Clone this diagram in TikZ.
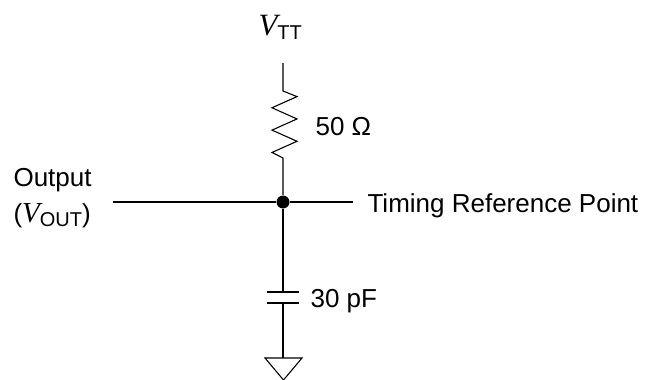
\documentclass[tikz,border=0pt]{standalone}
\usepackage{fontspec}
\setmainfont{Liberation Sans}
\newfontfamily\timesfont{Liberation Serif}
\usetikzlibrary{positioning}

\newcommand{\voltsym}[2]{{\timesfont\itshape\fontsize{#2}{#2}\selectfont V}\raisebox{-0.3ex}{\fontsize{20}{20}\selectfont #1}}

\begin{document}
\begin{tikzpicture}[x=1pt,y=-1pt,line width=1.1pt]
    \useasboundingbox (0,0) rectangle (645,380);

    % wire ends
    \coordinate (top) at (283,63);
    \coordinate (rtop) at (283,91);
    \coordinate (rbot) at (283,158);
    \coordinate (inl) at (113,202);
    \coordinate (outr) at (353,202);
    \coordinate (ctop) at (283,292);
    \coordinate (cbot) at (283,303);
    \coordinate (gnd) at (283,358);

    \begin{scope}[every node/.style={inner sep=0pt,anchor=base west,
        font=\fontsize{26}{30}\selectfont}]
      \node (vtt) at (258,35) {\voltsym{TT}{31}};
      \node (res) at (315,135) {50 Ω};
      \node (outp) at (13,186) {Output};
      \node (vout) at (13,222) {(\voltsym{OUT}{29})};
      \node (trp) at (367,212) {Timing Reference Point};
      \node (cap) at (310,307) {30 pF};
    \end{scope}

    \node[circle,fill,inner sep=0pt,minimum size=13pt] (junc) at (283,202) {};

    % resistor
    \draw (top) -- (rtop) -- ++(14,5.6) -- ++(-25,11.17) -- ++(25,11.17)
      -- ++(-25,11.17) -- ++(25,11.17) -- ++(-25,11.17) -- (rbot) -- (junc);
    \draw (inl) -- (junc) -- (outr);
    % capacitor
    \draw (junc) -- (ctop);
    \draw ([xshift=-16pt]ctop) -- ([xshift=16pt]ctop);
    \draw ([xshift=-16pt]cbot) -- ([xshift=16pt]cbot);
    \draw (cbot) -- (gnd);
    % ground
    \draw (gnd) ++(-18,0) -- ++(37,0) -- ++(-18.5,22) -- cycle;
\end{tikzpicture}
\end{document}
